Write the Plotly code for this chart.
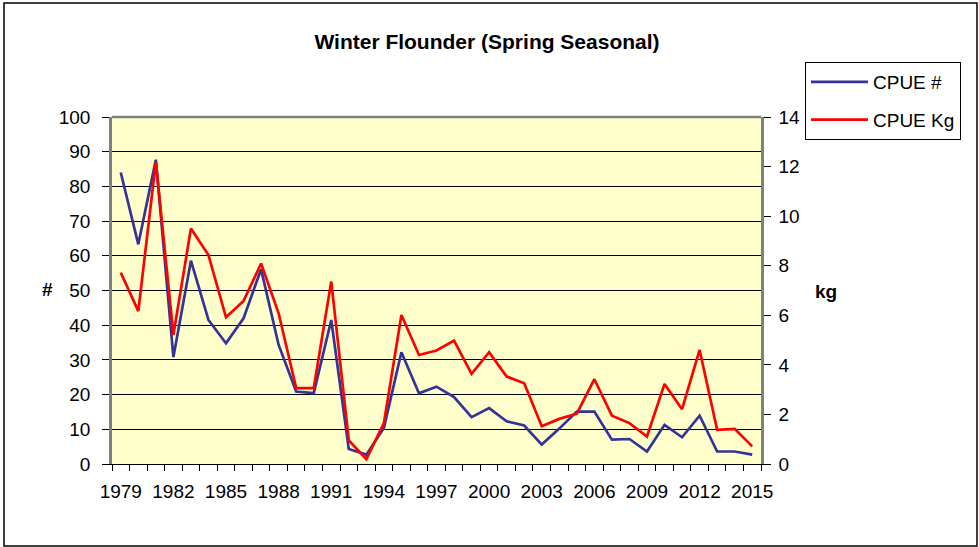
import plotly.graph_objects as go

years = list(range(1979, 2016))
cpue_num = [84.0, 63.3, 87.7, 30.8, 58.6, 41.5, 34.8, 42.0, 56.1, 34.3, 20.9, 20.4, 41.5,
            4.3, 2.7, 10.4, 32.2, 20.4, 22.3, 19.3, 13.5, 16.1, 12.3, 11.1, 5.6, 10.2,
            15.1, 15.1, 7.0, 7.2, 3.6, 11.3, 7.7, 13.9, 3.6, 3.6, 2.7]
cpue_kg = [7.72, 6.17, 12.19, 5.21, 9.5, 8.43, 5.92, 6.58, 8.09, 6.08, 3.06, 3.06, 7.36,
           0.95, 0.2, 1.65, 6.01, 4.4, 4.58, 4.98, 3.64, 4.51, 3.53, 3.26, 1.52, 1.82,
           2.03, 3.42, 1.95, 1.65, 1.11, 3.23, 2.21, 4.6, 1.38, 1.42, 0.71]
year_labels = list(range(1979, 2016, 3))
left_ticks = list(range(0, 101, 10))
right_ticks = list(range(0, 15, 2))

FONT = "Liberation Sans, Arial, sans-serif"
W, H = 979, 547
L, R, T, B = 112, 218, 117, 83
pw, ph = W - L - R, H - T - B

def px_x(x):
    return (x - L) / pw

def px_y(y):
    return (H - B - y) / ph

fig = go.Figure()
fig.add_trace(go.Scatter(x=years, y=cpue_num, name="CPUE #", mode="lines",
                         line=dict(color="#333399", width=2.7), legendgroup="a"))
fig.add_trace(go.Scatter(x=years, y=cpue_kg, name="CPUE Kg", mode="lines", yaxis="y2",
                         line=dict(color="#FF0000", width=2.7), legendgroup="b"))

fig.update_layout(
    width=W, height=H,
    margin=dict(l=L, r=R, t=T, b=B),
    paper_bgcolor="white",
    plot_bgcolor="#FFFFCC",
    font=dict(family=FONT, size=19, color="black"),
    title=dict(text="<b>Winter Flounder (Spring Seasonal)</b>", xref="container", yref="container",
               x=487 / W, y=1 - 42 / H, xanchor="center", yanchor="middle",
               font=dict(family=FONT, size=21, color="black")),
    xaxis=dict(range=[1978.5, 2015.5], tickmode="array", tickvals=year_labels,
               ticktext=[str(v) for v in year_labels], ticks="outside", ticklen=6,
               tickcolor="rgba(0,0,0,0)", showgrid=False, zeroline=False,
               showline=True, linecolor="black", linewidth=1,
               minor=dict(ticks="outside", ticklen=6, tick0=1978.5, dtick=1,
                          tickcolor="black", showgrid=False),
               tickfont=dict(size=19), ticklabelstandoff=4),
    yaxis=dict(range=[0, 100], tickmode="array", tickvals=left_ticks,
               showgrid=True, gridcolor="black", gridwidth=1, zeroline=False,
               showline=True, linecolor="#808080", linewidth=2.5,
               ticks="outside", ticklen=7, tickcolor="black",
               tickfont=dict(size=19), ticklabelstandoff=8),
    yaxis2=dict(range=[0, 14], tickmode="array", tickvals=right_ticks, overlaying="y",
                side="right", showgrid=False, zeroline=False,
                showline=True, linecolor="#808080", linewidth=2.5,
                ticks="outside", ticklen=7, tickcolor="black",
                tickfont=dict(size=19), ticklabelstandoff=4),
    legend=dict(x=px_x(805), y=px_y(62), xanchor="left", yanchor="top",
                bgcolor="white", bordercolor="black", borderwidth=1,
                font=dict(size=19), tracegroupgap=10, itemwidth=57),
    showlegend=True,
)

fig.add_annotation(text="<b>#</b>", x=px_x(47), y=px_y(289), xref="paper", yref="paper",
                   showarrow=False, font=dict(size=19), xanchor="center", yanchor="middle")
fig.add_annotation(text="<b>kg</b>", x=px_x(826), y=px_y(291), xref="paper", yref="paper",
                   showarrow=False, font=dict(size=19), xanchor="center", yanchor="middle")

# plot-area top border and outer chart frame
fig.add_shape(type="line", xref="paper", yref="paper", x0=0, x1=1, y0=1, y1=1,
              line=dict(color="#808080", width=2.5))
fig.add_shape(type="rect", xref="paper", yref="paper",
              x0=px_x(4), x1=px_x(977), y0=px_y(546), y1=px_y(3),
              line=dict(color="black", width=1.5), fillcolor="rgba(0,0,0,0)", layer="below")

fig.write_html("out.html", config={"displayModeBar": False},
               post_script="document.body.style.margin='0';document.body.style.overflow='hidden';")
